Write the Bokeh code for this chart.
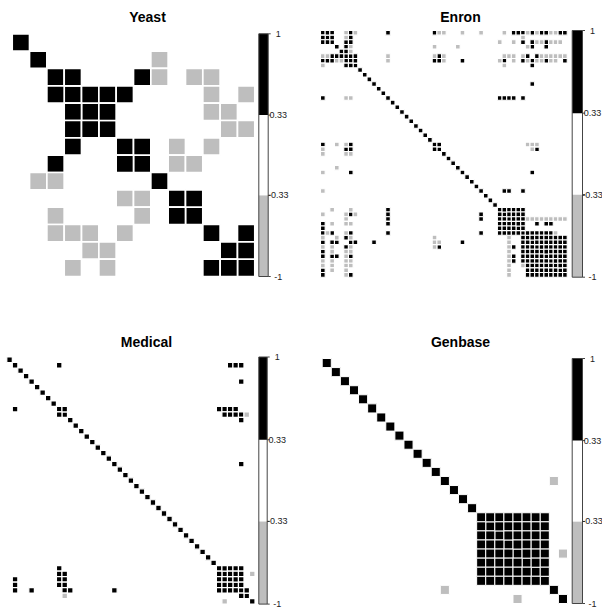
from bokeh.plotting import figure
from bokeh.layouts import gridplot
from bokeh.models import Range1d, LinearColorMapper, ColumnDataSource
from bokeh.transform import transform
from bokeh.core.properties import value
from bokeh.embed import file_html
from bokeh.resources import INLINE

# ---------------- data (label correlation matrices, lower triangle) ----------------
# every matrix is symmetric with a black diagonal; pairs are (row, col) with row > col
yeast_n = 14
yeast_pos = [(3, 2), (4, 3), (5, 3), (5, 4), (6, 3), (7, 2), (7, 6), (10, 9), (13, 11), (13, 12)]
yeast_neg = [(8, 1), (8, 2), (10, 2), (11, 2), (11, 3), (13, 3), (11, 4), (12, 4), (12, 5),
             (13, 5), (9, 6), (11, 6), (9, 7), (10, 7)]
yeast_blocks = []

enron_n = 53
enron_pos = [(1, 0), (2, 0), (2, 1), (5, 2), (5, 3), (5, 4), (6, 0), (6, 1), (6, 2), (6, 5),
             (7, 5), (7, 6), (14, 0), (24, 0), (24, 6), (25, 5), (25, 6), (25, 24), (30, 6),
             (38, 14), (39, 6), (39, 14), (39, 34), (40, 14), (40, 34), (41, 0), (41, 14),
             (42, 0), (43, 0), (43, 2), (43, 6), (43, 14), (43, 34), (44, 5), (44, 43),
             (45, 0), (45, 2), (45, 3), (45, 6), (45, 7), (45, 11), (45, 30), (45, 43),
             (46, 5), (46, 25), (46, 41), (46, 43), (47, 0), (47, 43), (48, 0), (48, 2),
             (48, 3), (48, 6), (48, 41), (48, 43), (49, 41), (49, 43), (51, 0), (52, 0), (52, 6)]
enron_neg = [(5, 0), (5, 1), (6, 3), (6, 4), (7, 0), (14, 5), (14, 6), (24, 3), (24, 5), (25, 0),
             (26, 0), (26, 5), (26, 6), (29, 3), (30, 0), (34, 0), (38, 2), (38, 6), (39, 0),
             (39, 5), (39, 7), (40, 5), (41, 2), (41, 5), (41, 6), (43, 1), (43, 5), (44, 0),
             (44, 3), (44, 6), (44, 24), (44, 40), (45, 24), (45, 25), (45, 40), (46, 0),
             (46, 2), (46, 6), (46, 24), (46, 40), (47, 2), (47, 5), (47, 6), (47, 40),
             (48, 5), (48, 40), (49, 0), (49, 2), (49, 5), (49, 6), (49, 40), (50, 0),
             (50, 2), (50, 5), (50, 6), (50, 40), (50, 43), (51, 2), (51, 5), (51, 40),
             (52, 5), (52, 40)]
enron_blocks = [(38, 43), (44, 52)]

medical_n = 45
medical_pos = [(9, 1), (10, 9), (38, 9), (39, 9), (39, 10), (40, 1), (40, 9), (40, 10),
               (41, 1), (41, 9), (41, 10), (42, 1), (42, 4), (42, 10), (42, 11), (42, 19), (43, 42)]
medical_neg = [(43, 10), (44, 39)]
medical_blocks = [(38, 42)]

genbase_n = 27
genbase_pos = []
genbase_neg = [(25, 13), (26, 21)]
genbase_blocks = [(17, 24)]

# colour key
cb_breaks = [-1, -0.33, 0.33, 1]
cb_labels = ["-1", "-0.33", "0.33", "1"]
palette = ["#BEBEBE", "#FFFFFF", "#000000"]

mapper = LinearColorMapper(palette=palette, low=-1, high=1)
FONT = value("Liberation Sans")


def panel(name, n, pos, neg, blocks, W, H, mx0, mx1, my0, my1, bx0, bw, tx, ty, lw):
    sx = n / (mx1 - mx0)
    sy = n / (my1 - my0)

    def dx(px):
        return 0.5 + (px - mx0) * sx

    def dy(py):
        return 0.5 + (py - my0) * sy

    p = figure(width=W, height=H, x_range=Range1d(dx(0), dx(W)), y_range=Range1d(dy(H), dy(0)),
               output_backend="svg", toolbar_location=None, min_border=0,
               x_axis_location=None, y_axis_location=None, outline_line_color=None,
               background_fill_color="white", border_fill_color="white")
    p.grid.visible = False

    xs, ys, vs = [], [], []

    def add(r, c, v):
        xs.append(c + 1)
        ys.append(r + 1)
        vs.append(v)

    for i in range(n):
        add(i, i, 1.0)
    for r, c in pos:
        add(r, c, 1.0)
        add(c, r, 1.0)
    for r, c in neg:
        add(r, c, -1.0)
        add(c, r, -1.0)
    for a, b in blocks:
        for r in range(a, b + 1):
            for c in range(a, r):
                add(r, c, 1.0)
                add(c, r, 1.0)
    src = ColumnDataSource(dict(x=xs, y=ys, v=vs))
    p.rect(x="x", y="y", width=1, height=1, source=src,
           fill_color=transform("v", mapper), line_color="white", line_width=lw)

    # colour key
    def yv(v):
        return 0.5 + (1 - v) / 2 * n

    bl, br = dx(bx0), dx(bx0 + bw)
    lo = cb_breaks[:-1]
    hi = cb_breaks[1:]
    mids = [(a + b) / 2 for a, b in zip(lo, hi)]
    qs = ColumnDataSource(dict(top=[yv(h) for h in hi], bottom=[yv(l) for l in lo], v=mids))
    p.quad(left=bl, right=br, top="top", bottom="bottom", source=qs,
           fill_color=transform("v", mapper), line_color=None)
    p.quad(left=[bl], right=[br], top=[yv(1)], bottom=[yv(-1)], fill_color=None,
           line_color="#444444", line_width=1)
    p.segment(x0=[br] * 4, x1=[dx(bx0 + bw + 2.5)] * 4, y0=[yv(v) for v in cb_breaks],
              y1=[yv(v) for v in cb_breaks], line_color="#444444", line_width=1)
    p.text(x=[dx(bx0 + bw + 10)] * 4, y=[yv(v) for v in cb_breaks], text=cb_labels,
           text_align="center", text_baseline="middle", text_font=FONT,
           text_font_size=value("9px"), text_color="#222222")

    p.text(x=[dx(tx)], y=[dy(ty)], text=[name], text_align="center", text_baseline="middle",
           text_font=FONT, text_font_style="bold", text_font_size=value("14px"),
           text_color="#000000")
    return p


p1 = panel("Yeast", yeast_n, yeast_pos, yeast_neg, yeast_blocks,
           301, 300, 11.7, 254.3, 33.3, 276.0, 258.3, 9.4, 147, 16, 1.7)
p2 = panel("Enron", enron_n, enron_pos, enron_neg, enron_blocks,
           301, 300, 19.0, 265.7, 30.0, 276.7, 270.7, 10.3, 159, 16.7, 1.1)
p3 = panel("Medical", medical_n, medical_pos, medical_neg, medical_blocks,
           301, 309, 6.3, 254.5, 56.5, 303.6, 258.3, 8.4, 146, 41.7, 1.2)
p4 = panel("Genbase", genbase_n, genbase_pos, genbase_neg, genbase_blocks,
           301, 309, 20.7, 266.0, 58.0, 303.0, 270.7, 10.3, 159, 41, 1.0)

grid = gridplot([[p1, p2], [p3, p4]], toolbar_location=None)
open("out.html", "w").write(file_html(grid, INLINE))
